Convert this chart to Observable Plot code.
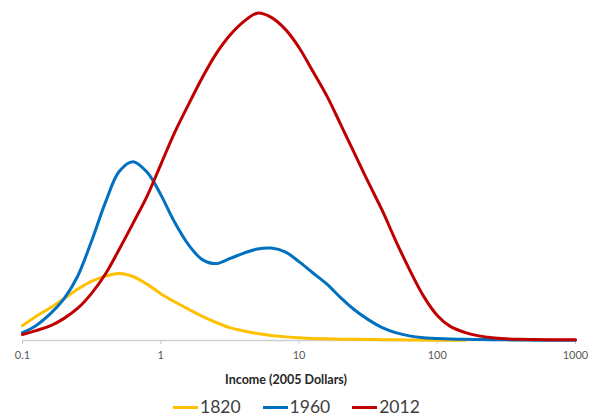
<!DOCTYPE html>
<html>
<head>
<meta charset="utf-8">
<script src="https://cdn.jsdelivr.net/npm/d3@7"></script>
<script src="https://cdn.jsdelivr.net/npm/@observablehq/plot@0.6"></script>
<style>
  html, body { margin: 0; padding: 0; background: #fff; overflow: hidden; }
  #wrap { position: relative; width: 597px; height: 416px; font-family: Lato, "Open Sans", sans-serif; }
  #legend { position: absolute; left: 173px; top: 399px; display: flex; align-items: center; height: 16px; }
  .item { display: flex; align-items: center; margin-right: 22px; }
  .swatch { width: 25px; height: 3px; margin-right: 2px; }
  .label { font-size: 17.5px; color: #404040; line-height: 16px; }
</style>
</head>
<body>
<div id="wrap"><div id="legend"></div></div>
<script>
// Income levels (2005 dollars per day), ten steps per decade on a log scale
const incomes = [0.1, 0.125, 0.16, 0.2, 0.25, 0.315, 0.4, 0.5, 0.63, 0.8,
                 1, 1.25, 1.6, 2, 2.5, 3.15, 4, 5, 6.3, 8,
                 10, 12.5, 16, 20, 25, 31.5, 40, 50, 63, 80,
                 100, 125, 160, 200, 250, 315, 400, 500, 630, 800, 1000];

// Population density at each income level
const density1820 = [4.5, 7.3, 10.0, 12.7, 15.5, 17.9, 19.5, 20.3, 19.4, 17.0,
                     14.2, 11.8, 9.4, 7.3, 5.5, 3.9, 2.9, 2.1, 1.5, 1.1,
                     0.8, 0.6, 0.5, 0.4, 0.35, 0.3, 0.25, 0.2, 0.15, 0.12,
                     0.1, 0.08, 0.05, null, null, null, null, null, null, null, null];
const density1960 = [2.4, 4.5, 8.2, 12.7, 19.4, 30.0, 42.1, 51.2, 54.2, 50.9,
                     44.2, 36.1, 28.8, 24.5, 23.3, 24.8, 26.5, 27.7, 28.0, 26.8,
                     23.9, 20.6, 17.0, 13.0, 9.4, 6.4, 3.9, 2.4, 1.4, 0.85,
                     0.6, 0.45, 0.35, 0.3, 0.25, 0.2, 0.15, 0.1, 0.1, 0.05, 0.05];
const density2012 = [1.8, 3.0, 4.5, 6.7, 9.7, 14.2, 20.3, 27.6, 35.5, 43.9,
                     53.3, 62.7, 71.8, 79.7, 86.7, 92.4, 96.7, 99.2, 97.9, 94.2,
                     88.8, 81.8, 73.9, 65.5, 57.0, 48.2, 39.4, 30.3, 21.5, 13.3,
                     7.6, 4.2, 2.4, 1.4, 0.8, 0.5, 0.35, 0.3, 0.25, 0.2, 0.2];

const years = ["1820", "1960", "2012"];
const colors = ["#FFC000", "#0070C0", "#C00000"];
const seriesValues = [density1820, density1960, density2012];

const tickValues = [0.1, 1, 10, 100, 1000];
const tickLabels = ["0.1", "1", "10", "100", "1000"];
const axisTitle = "Income (2005 Dollars)";

const rows = [];
years.forEach((year, s) => {
  incomes.forEach((x, i) => {
    const v = seriesValues[s][i];
    if (v != null) rows.push({year, income: x, density: v});
  });
});

const chart = Plot.plot({
  width: 597,
  height: 395,
  marginLeft: 22,
  marginRight: 22,
  marginTop: 10,
  marginBottom: 55,
  style: {fontFamily: "Lato, 'Open Sans', sans-serif", background: "#fff"},
  x: {type: "log", domain: [0.1, 1000]},
  y: {domain: [0, 100], axis: null},
  color: {domain: years, range: colors},
  marks: [
    Plot.ruleY([0], {stroke: "#d0d0d0", strokeWidth: 1.5}),
    Plot.axisX({
      ticks: tickValues,
      tickFormat: d => tickLabels[tickValues.indexOf(d)],
      tickSize: 4,
      tickPadding: 7,
      stroke: "#c8c8c8",
      fill: "#595959",
      fontSize: 11,
      label: null
    }),
    Plot.line(rows, {x: "income", y: "density", z: "year", stroke: "year", strokeWidth: 3, curve: "catmull-rom"}),
    Plot.text([axisTitle], {frameAnchor: "bottom", dy: 43, dx: -13, fontWeight: "bold", fontSize: 12.5, fill: "#262626"})
  ]
});

const wrap = document.getElementById("wrap");
wrap.insertBefore(chart, wrap.firstChild);

const legend = document.getElementById("legend");
years.forEach((year, i) => {
  const item = document.createElement("div");
  item.className = "item";
  const sw = document.createElement("div");
  sw.className = "swatch";
  sw.style.background = colors[i];
  const lab = document.createElement("span");
  lab.className = "label";
  lab.textContent = year;
  item.appendChild(sw);
  item.appendChild(lab);
  legend.appendChild(item);
});
</script>
</body>
</html>
